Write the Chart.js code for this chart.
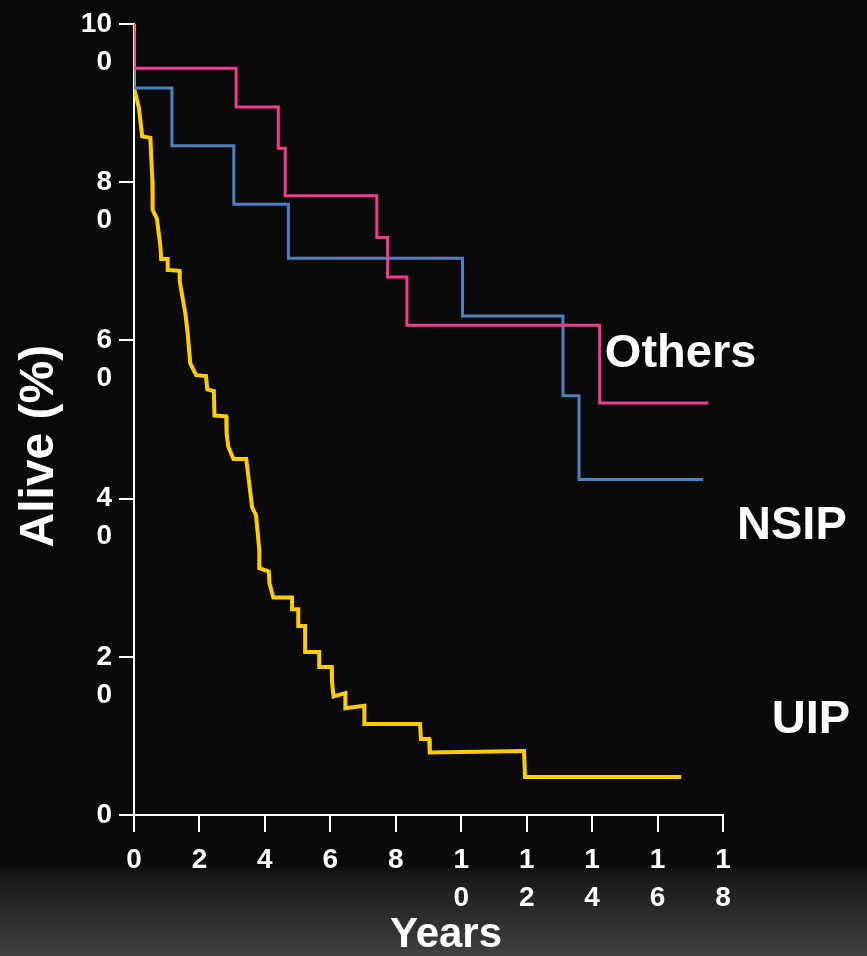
<!DOCTYPE html>
<html>
<head>
<meta charset="utf-8">
<title>Alive (%) vs Years</title>
<script src="https://cdn.jsdelivr.net/npm/chart.js@4.4.1/dist/chart.umd.min.js"></script>
<style>
    html, body {
        margin: 0;
        padding: 0;
    }
    body {
        width: 867px;
        height: 956px;
        overflow: hidden;
        background: linear-gradient(to bottom, #0a0a0a 0px, #0a0a0a 866px, #171717 873px, #404040 956px);
    }
    #grafico {
        display: block;
    }
</style>
</head>
<body>
<canvas id="grafico" width="867" height="956"></canvas>
<script>
// Tick values of both axes
const yearTicks = [0, 2, 4, 6, 8, 10, 12, 14, 16, 18];
const aliveTicks = [0, 20, 40, 60, 80, 100];

// Others: survival steps (years, % alive)
const othersYears = [0, 0, 3.12, 4.41, 4.62, 7.42, 7.75, 8.34, 14.23, 17.55];
const othersAlive = [100, 94.4, 89.5, 84.3, 78.3, 73.0, 68.0, 61.9, 52.1, 52.1];

// NSIP: survival steps
const nsipYears = [0, 0, 1.16, 3.05, 4.72, 10.04, 13.11, 13.6, 17.39];
const nsipAlive = [99, 91.9, 84.6, 77.2, 70.4, 63.1, 53.0, 42.4, 42.4];

// UIP: curve traced as a polyline
const uipYears = [0, 0, 0.15, 0.25, 0.50, 0.56, 0.57, 0.70, 0.81, 0.83, 1.03, 1.03, 1.39, 1.40,
    1.57, 1.64, 1.72, 1.90, 2.20, 2.24, 2.44, 2.46, 2.82, 2.83, 2.88, 3.04, 3.43, 3.61, 3.73,
    3.83, 3.83, 4.12, 4.14, 4.26, 4.83, 4.83, 5.02, 5.02, 5.23, 5.23, 5.66, 5.66, 6.04, 6.05,
    6.10, 6.46, 6.46, 7.04, 7.04, 8.74, 8.77, 9.02, 9.04, 11.92, 11.95, 16.72];
const uipAlive = [100, 91.9, 89.4, 85.8, 85.6, 80.3, 76.5, 75.4, 71.8, 70.3, 70.3, 68.9, 68.8, 67.4,
    63.4, 60.9, 57.1, 55.6, 55.5, 53.8, 53.6, 50.5, 50.4, 48.3, 46.6, 45.0, 45.0, 38.9, 37.9,
    33.5, 31.2, 30.8, 29.3, 27.5, 27.5, 26.0, 26.0, 23.9, 23.9, 20.6, 20.6, 18.7, 18.7, 16.9,
    15.0, 15.4, 13.5, 13.8, 11.5, 11.5, 9.6, 9.6, 7.9, 8.1, 4.8, 4.8];

// Curve names written next to the curves
const curveNames = ['Others', 'NSIP', 'UIP'];

function toPoints(xs, ys) {
    return xs.map((x, i) => ({ x: x, y: ys[i] }));
}

// "10" -> ["1", "0"] : the digits are stacked like in the original slide
function splitDigits(value) {
    const s = String(value);
    if (s.length < 2) return [s];
    return [s.slice(0, -1), s.slice(-1)];
}

// Names placed at (years, % alive)
const curveNamePlugin = {
    id: 'curveNames',
    afterDraw(chart) {
        const anchors = [[14.39, 58.3], [18.43, 36.5], [19.49, 12.05]];
        const ctx = chart.ctx;
        const xs = chart.scales.x;
        const ys = chart.scales.y;
        ctx.save();
        ctx.font = 'bold 47px "Liberation Sans", Arial, sans-serif';
        ctx.fillStyle = '#ffffff';
        ctx.textAlign = 'left';
        ctx.textBaseline = 'middle';
        curveNames.forEach((name, i) => {
            ctx.fillText(name, xs.getPixelForValue(anchors[i][0]), ys.getPixelForValue(anchors[i][1]));
        });
        ctx.restore();
    }
};

function generarGrafico() {
    const ctx = document.getElementById('grafico').getContext('2d');
    const tickFont = { family: '"Liberation Sans", Arial, sans-serif', size: 28, weight: 'bold', lineHeight: '38px' };

    const data = {
        datasets: [{
            label: 'Others',
            data: toPoints(othersYears, othersAlive),
            borderColor: '#f23c8e',
            borderWidth: 3,
            stepped: 'before',
            pointRadius: 0,
            fill: false
        }, {
            label: 'NSIP',
            data: toPoints(nsipYears, nsipAlive),
            borderColor: '#4f80bf',
            borderWidth: 3,
            stepped: 'before',
            pointRadius: 0,
            fill: false
        }, {
            label: 'UIP',
            data: toPoints(uipYears, uipAlive),
            borderColor: '#ffcc00',
            borderWidth: 4,
            tension: 0,
            pointRadius: 0,
            fill: false
        }]
    };

    const config = {
        type: 'line',
        data: data,
        options: {
            responsive: false,
            animation: false,
            layout: {
                padding: { top: 24, right: 144, bottom: 0, left: 0 }
            },
            scales: {
                x: {
                    type: 'linear',
                    min: 0,
                    max: 18,
                    afterBuildTicks: scale => {
                        scale.ticks = yearTicks.map(v => ({ value: v }));
                    },
                    afterFit: scale => {
                        scale.height = 141;
                        scale.paddingLeft = 0;
                        scale.paddingRight = 0;
                    },
                    border: { display: true, color: '#ffffff', width: 2 },
                    grid: { drawOnChartArea: false, drawTicks: true, tickLength: 17, color: '#ffffff', lineWidth: 2 },
                    ticks: {
                        color: '#ffffff',
                        font: tickFont,
                        padding: 9,
                        maxRotation: 0,
                        autoSkip: false,
                        callback: value => splitDigits(value)
                    },
                    title: {
                        display: true,
                        text: '   Years',
                        color: '#ffffff',
                        font: { family: '"Liberation Sans", Arial, sans-serif', size: 42, weight: 'bold', lineHeight: 1 },
                        padding: { top: 0, bottom: 0 }
                    }
                },
                y: {
                    min: 0,
                    max: 100,
                    afterBuildTicks: scale => {
                        scale.ticks = aliveTicks.map(v => ({ value: v }));
                    },
                    afterFit: scale => {
                        scale.width = 134;
                        scale.paddingTop = 0;
                        scale.paddingBottom = 0;
                    },
                    border: { display: true, color: '#ffffff', width: 2 },
                    grid: { drawOnChartArea: false, drawTicks: true, tickLength: 15, color: '#ffffff', lineWidth: 2 },
                    ticks: {
                        color: '#ffffff',
                        font: tickFont,
                        padding: 7,
                        autoSkip: false,
                        // empty first line keeps the upper digits level with the tick
                        callback: value => {
                            const parts = splitDigits(value);
                            return parts.length > 1 ? [''].concat(parts) : parts;
                        }
                    },
                    title: {
                        display: true,
                        text: 'Alive (%)    ',
                        color: '#ffffff',
                        font: { family: '"Liberation Sans", Arial, sans-serif', size: 48, weight: 'bold', lineHeight: 1.2 },
                        padding: { top: 11, bottom: 0 }
                    }
                }
            },
            plugins: {
                legend: { display: false },
                tooltip: { enabled: false }
            }
        },
        plugins: [curveNamePlugin]
    };

    new Chart(ctx, config);
}

document.addEventListener('DOMContentLoaded', function() {
    if (typeof Chart !== 'undefined') {
        generarGrafico();
    } else {
        console.error('Chart.js is not loaded.');
    }
});
</script>
</body>
</html>
